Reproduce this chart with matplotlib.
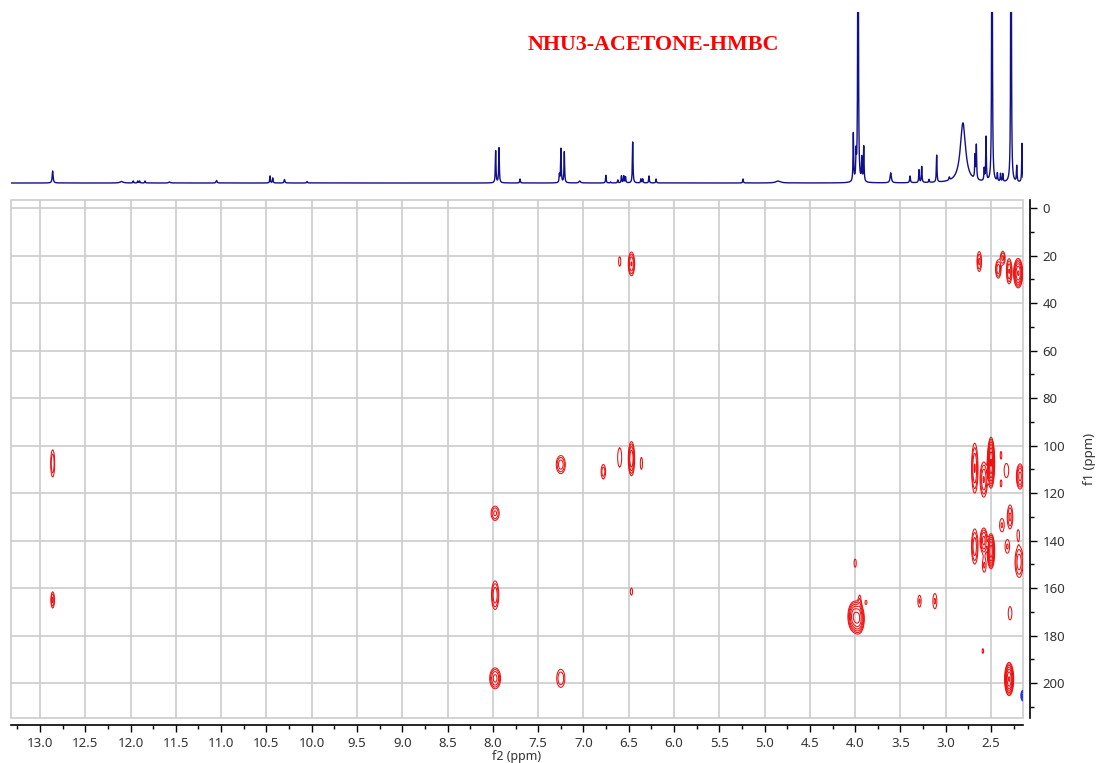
import numpy as np
import matplotlib
matplotlib.use('Agg')
import matplotlib.pyplot as plt
from matplotlib.ticker import MultipleLocator, FormatStrFormatter
from matplotlib.patches import Rectangle

plt.rcParams['font.family'] = ['Noto Sans', 'DejaVu Sans']

title = "NHU3-ACETONE-HMBC"

# 1H projection: shift (ppm), height, half width (ppm)
h_shift = [12.86, 12.10, 11.97, 11.92, 11.90, 11.84, 11.57, 11.05, 10.46, 10.43, 10.30, 10.05,
           7.969, 7.932, 7.70, 7.265, 7.248, 7.211, 7.04, 6.752, 6.70, 6.62, 6.58, 6.555, 6.535,
           6.456, 6.365, 6.345, 6.276, 6.198, 5.238, 4.85,
           4.02, 3.99, 3.968, 3.927, 3.905, 3.607, 3.394, 3.295, 3.265, 3.184, 3.10, 2.96,
           2.81, 2.677, 2.662, 2.575, 2.555, 2.489, 2.43, 2.395, 2.37, 2.279, 2.216, 2.157]
h_height = [12, 1.5, 2, 2, 2, 2, 1, 2.5, 7, 5, 3.5, 1.5,
            32, 35, 4, 8, 34, 31, 2, 7.7, 1, 3, 7, 7, 6,
            41, 4, 4, 7, 4, 4, 2,
            48, 25, 600, 23, 35, 10, 6.7, 12.7, 16, 3, 27, 3,
            60, 23, 34, 12, 44, 600, 8, 8, 8, 600, 16, 39]
h_width = [0.006, 0.02, 0.004, 0.004, 0.004, 0.004, 0.01, 0.006, 0.004, 0.004, 0.005, 0.005,
           0.004, 0.004, 0.004, 0.004, 0.004, 0.004, 0.01, 0.004, 0.004, 0.004, 0.004, 0.004, 0.004,
           0.004, 0.004, 0.004, 0.004, 0.004, 0.004, 0.03,
           0.004, 0.004, 0.003, 0.004, 0.004, 0.008, 0.005, 0.004, 0.004, 0.004, 0.004, 0.005,
           0.035, 0.004, 0.004, 0.004, 0.004, 0.003, 0.004, 0.004, 0.004, 0.003, 0.004, 0.004]

# HMBC cross peaks: f2, f1 (ppm), depth (contour count), outer half extent in f2 / f1
pk_f2 = [12.86, 12.86, 7.975, 7.975, 7.975, 7.25, 7.25, 6.78, 6.60, 6.47, 6.36, 6.60, 6.47, 6.47,
         4.00, 4.01, 3.96, 3.95, 3.88, 3.29, 3.12,
         2.63, 2.42, 2.37, 2.30, 2.20,
         2.68, 2.58, 2.50, 2.39, 2.33, 2.39, 2.18,
         2.29, 2.38, 2.20, 2.68, 2.58, 2.575, 2.50, 2.32, 2.19,
         2.29, 2.59, 2.30]
pk_f1 = [107.5, 165, 128.5, 163, 198, 198, 108, 111, 105, 105.5, 107.5, 22.5, 23.5, 161.5,
         149.5, 172, 173, 166, 166, 165.5, 165.5,
         22.5, 25.7, 21, 26.6, 27.4,
         109.5, 114.3, 107.2, 104, 110.5, 116, 113,
         130, 133.5, 137.3, 142.5, 140, 150.5, 144.5, 142.5, 149,
         170.6, 186.5, 198.3]
pk_amp = [2.2, 2.5, 2.5, 3.2, 4.0, 2.2, 3.0, 2.0, 1.4, 5.0, 1.4, 1.3, 3.5, 1.3,
          1.3, 7, 6, 1.4, 1.2, 1.6, 1.6,
          2.5, 3, 2.5, 3.5, 8,
          3.5, 3.5, 12, 1.2, 1.5, 1.2, 4,
          2.5, 1.6, 1.3, 3, 4, 1.6, 10, 1.6, 3,
          1.5, 1.2, 12]
pk_dx = [0.022, 0.02, 0.045, 0.04, 0.06, 0.045, 0.05, 0.025, 0.022, 0.035, 0.012, 0.012, 0.035, 0.012,
         0.012, 0.07, 0.06, 0.012, 0.01, 0.018, 0.022,
         0.025, 0.03, 0.025, 0.03, 0.05,
         0.035, 0.04, 0.04, 0.008, 0.025, 0.008, 0.04,
         0.03, 0.025, 0.012, 0.035, 0.04, 0.02, 0.04, 0.025, 0.045,
         0.02, 0.008, 0.05]
pk_dy = [5.7, 3.4, 3.0, 6.0, 4.4, 3.8, 3.8, 3.0, 4.0, 7.2, 2.5, 2.0, 5.0, 1.5,
         1.7, 6.3, 6.0, 2.8, 0.8, 2.5, 3.2,
         4.2, 3.8, 2.8, 5.3, 6.2,
         10.5, 7.4, 10.7, 1.5, 3.0, 1.3, 5.3,
         5.0, 2.8, 1.8, 7.4, 5.3, 2.8, 7.4, 2.8, 6.5,
         2.8, 1.0, 7.0]

# negative (blue) peak
neg_f2 = [2.15]
neg_f1 = [205.3]
neg_amp = [4.0]
neg_dx = [0.02]
neg_dy = [2.2]

fig = plt.figure(figsize=(10.96, 7.63), dpi=100)
W, H = 1096., 763.
ax = fig.add_axes([11/W, 1-718/H, 1012/W, 518/H])
top = fig.add_axes([11/W, 1-185/H, 1012/W, 173/H])

# --- 1D projection
x1 = np.arange(2.14, 13.34, 0.0005)
spec = np.zeros_like(x1)
for s, h, w in zip(h_shift, h_height, h_width):
    spec += h * w**2 / ((x1 - s)**2 + w**2)
top.plot(x1, spec, color='#10108a', lw=1.0)
top.set_xlim(13.32, 2.147)
top.set_ylim(-2, 171)
top.axis('off')

# --- 2D contour map
f2 = np.arange(2.10, 13.40, 0.004)
f1 = np.arange(-5, 217, 0.25)
Z = np.zeros((len(f1), len(f2)))
for cx, cy, a, dx, dy in zip(pk_f2, pk_f1, pk_amp, pk_dx, pk_dy):
    k = np.sqrt(2 * np.log(a))
    gx = np.exp(-0.5 * ((f2 - cx) / (dx / k))**2)
    gy = np.exp(-0.5 * ((f1 - cy) / (dy / k))**2)
    Z += a * np.outer(gy, gx)
Zn = np.zeros_like(Z)
for cx, cy, a, dx, dy in zip(neg_f2, neg_f1, neg_amp, neg_dx, neg_dy):
    k = np.sqrt(2 * np.log(a))
    gx = np.exp(-0.5 * ((f2 - cx) / (dx / k))**2)
    gy = np.exp(-0.5 * ((f1 - cy) / (dy / k))**2)
    Zn += a * np.outer(gy, gx)

levels = 1.5 ** np.arange(0, 9)
ax.contour(f2, f1, Z, levels=levels, colors='#ee1111', linewidths=0.75)
ax.contour(f2, f1, Zn, levels=levels, colors='#2233ee', linewidths=0.75)

ax.set_xlim(13.32, 2.147)
ax.set_ylim(214.7, -3.4)

ax.set_xticks(np.arange(2.5, 13.01, 0.5))
ax.xaxis.set_major_formatter(FormatStrFormatter('%.1f'))
ax.xaxis.set_minor_locator(MultipleLocator(0.25))
ax.set_yticks(np.arange(0, 201, 20))
ax.yaxis.set_minor_locator(MultipleLocator(10))
ax.yaxis.tick_right()
ax.yaxis.set_label_position('right')
ax.tick_params(which='major', length=5, width=1, labelsize=9.5, labelcolor='#333333', pad=4)
ax.tick_params(which='minor', length=3, width=1)
ax.grid(True, which='major', color='#cccccc', lw=1.2)
ax.set_axisbelow(True)

for s in ['left', 'top']:
    ax.spines[s].set_visible(False)
ax.spines['bottom'].set_position(('outward', 5))
ax.spines['right'].set_position(('outward', 5))
ax.spines['bottom'].set_linewidth(1.2)
ax.spines['right'].set_linewidth(1.2)
ax.add_patch(Rectangle((0, 0), 1, 1, transform=ax.transAxes, fill=False,
                       edgecolor='#cccccc', lw=1.2, clip_on=False, zorder=0))

ax.set_xlabel("f2 (ppm)", fontsize=9, color='#333333', labelpad=0)
ax.set_ylabel("f1 (ppm)", fontsize=9.5, color='#333333', labelpad=13)

fig.text(653/W, 1-45/H, title, color='red', fontsize=15.8, fontweight='bold',
         family='Liberation Serif', ha='center', va='center')

fig.savefig('out.png', dpi=100)
